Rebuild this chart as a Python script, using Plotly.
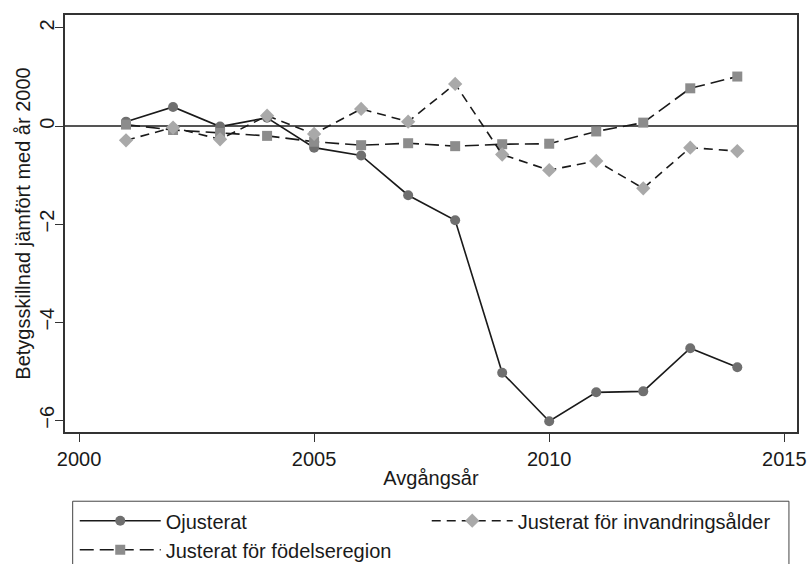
import plotly.graph_objects as go

years = list(range(2001, 2015))
ojusterat = [0.09, 0.39, -0.01, 0.17, -0.44, -0.60, -1.41, -1.92, -5.03, -6.02, -5.43, -5.41, -4.53, -4.92]
fodelseregion = [0.03, -0.08, -0.14, -0.20, -0.32, -0.39, -0.35, -0.41, -0.37, -0.36, -0.11, 0.07, 0.77, 1.01]
invandringsalder = [-0.29, -0.03, -0.27, 0.21, -0.16, 0.35, 0.09, 0.86, -0.58, -0.90, -0.71, -1.27, -0.44, -0.51]

x_ticks = [2000, 2005, 2010, 2015]
y_ticks = [-6, -4, -2, 0, 2]

FONT = "Liberation Sans, Arial, sans-serif"
LINE = "#1a1a1a"

fig = go.Figure()
fig.add_trace(go.Scatter(
    x=years, y=ojusterat, name="Ojusterat", mode="lines+markers",
    line=dict(color=LINE, width=1.6),
    marker=dict(symbol="circle", size=10, color="#6f6f6f"),
    legendrank=1))
fig.add_trace(go.Scatter(
    x=years, y=fodelseregion, name="Justerat för födelseregion", mode="lines+markers",
    line=dict(color=LINE, width=1.6, dash="14px,6px"),
    marker=dict(symbol="square", size=10, color="#8c8c8c"),
    legendrank=3))
fig.add_trace(go.Scatter(
    x=years, y=invandringsalder, name="Justerat för invandringsålder", mode="lines+markers",
    line=dict(color=LINE, width=1.6, dash="9px,6px"),
    marker=dict(symbol="diamond", size=11, color="#a9a9a9"),
    legendrank=2))

# legend frame (drawn as a paper-referenced rectangle)
fig.add_shape(type="rect", xref="paper", yref="paper",
              x0=0.0105, x1=0.989, y0=-0.166, y1=-0.45,
              line=dict(color="#444", width=1), fillcolor="rgba(0,0,0,0)", layer="below")

fig.update_layout(
    width=810, height=564,
    margin=dict(l=65, r=13, t=15, b=132, autoexpand=False),
    paper_bgcolor="white", plot_bgcolor="white",
    font=dict(family=FONT, size=20, color="#1a1a1a"),
    showlegend=True,
    legend=dict(
        orientation="h", x=0.0133, xanchor="left", y=-0.166, yanchor="top",
        borderwidth=0, bgcolor="rgba(0,0,0,0)",
        itemwidth=81, entrywidthmode="pixels", entrywidth=256,
        font=dict(family=FONT, size=20, color="#1a1a1a"),
        traceorder="normal", itemclick=False,
    ),
    xaxis=dict(
        range=[1999.702, 2015.27], tickvals=x_ticks, ticks="outside", ticklen=8,
        tickwidth=1.2, tickcolor="#333", showgrid=False, zeroline=False,
        showline=True, linecolor="#333", linewidth=1.5, mirror=True,
        tickfont=dict(size=20), title=dict(text="Avgångsår", font=dict(size=20), standoff=2),
    ),
    yaxis=dict(
        range=[-6.239, 2.265], tickvals=y_ticks, ticks="outside", ticklen=8,
        tickwidth=1.2, tickcolor="#333", showgrid=False,
        zeroline=True, zerolinecolor="#555", zerolinewidth=1.5,
        showline=True, linecolor="#333", linewidth=1.5, mirror=True,
        tickangle=-90, tickfont=dict(size=20), ticklabelstandoff=-7,
        title=dict(text="Betygsskillnad jämfört med år 2000", font=dict(size=20), standoff=0),
    ),
)

fig.write_html("out.html", config={"displayModeBar": False},
               post_script="document.body.style.margin='0';document.body.style.padding='0';")
